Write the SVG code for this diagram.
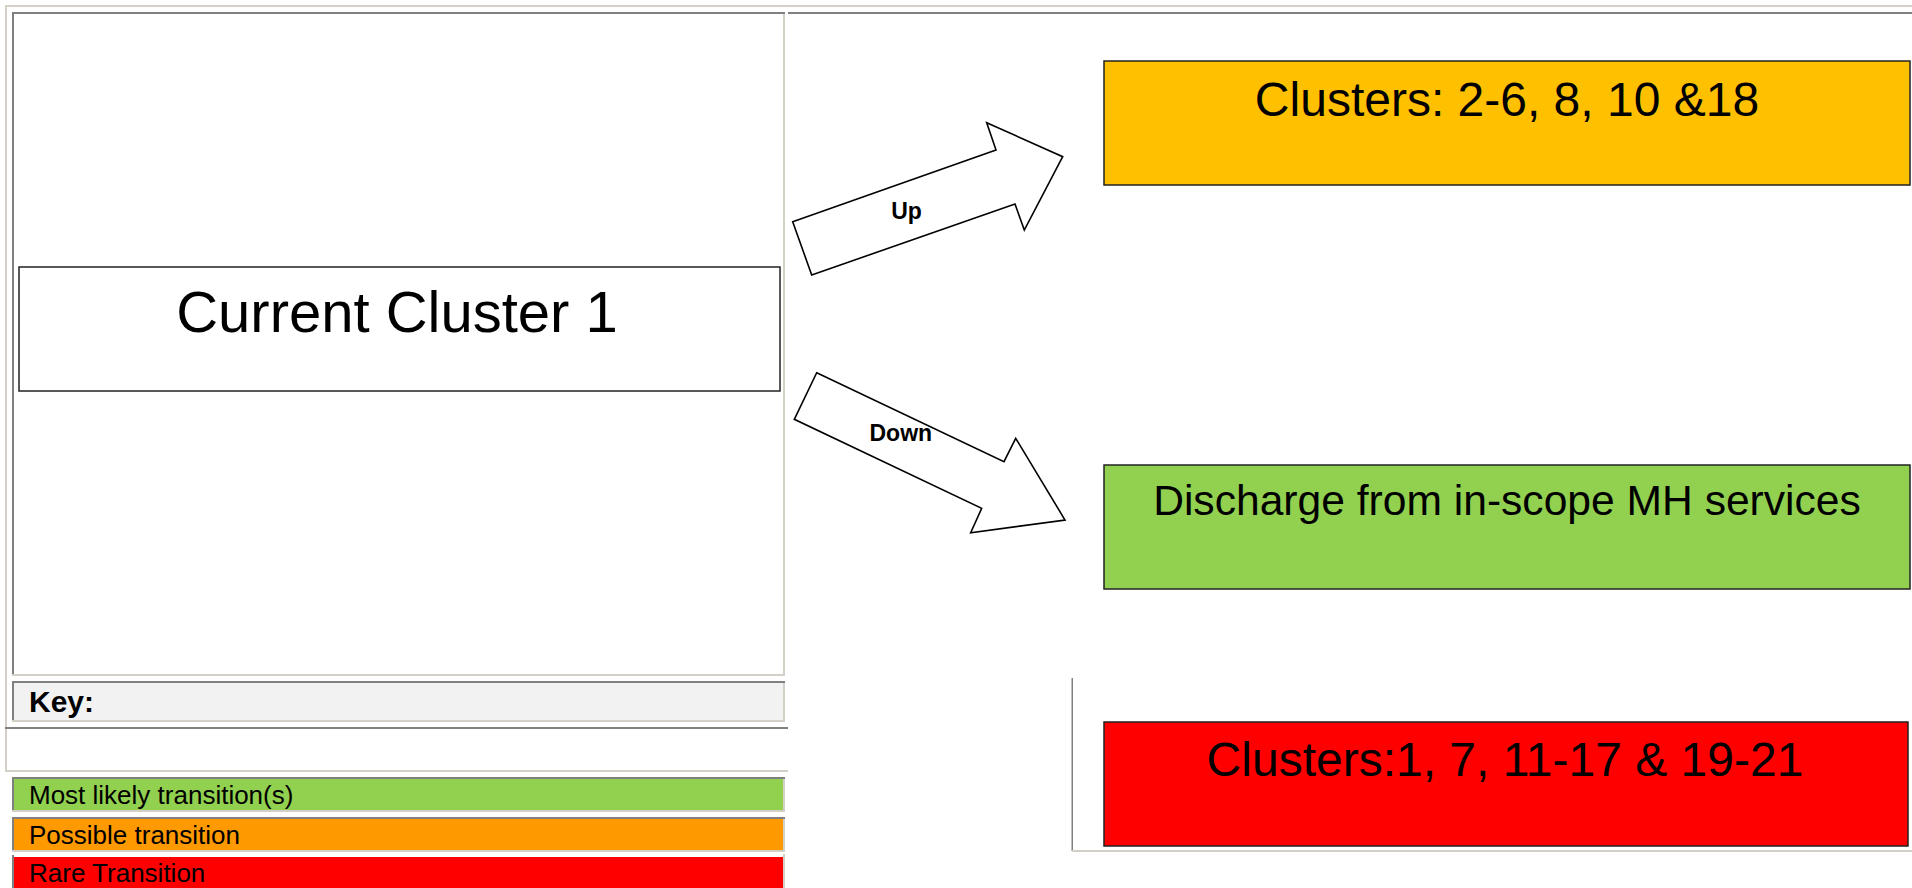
<svg xmlns="http://www.w3.org/2000/svg" width="1912" height="888" viewBox="0 0 1912 888">
<style>
.lt{fill:#d4d0c8}
.dk{fill:#808080}
.box{stroke:#222;stroke-width:1.5}
.t{font-family:"Liberation Sans",Arial,sans-serif;fill:#000}
.arrow{fill:#fff;stroke:#000;stroke-width:1.6;stroke-linejoin:miter}
.lbl{font-family:"Liberation Sans",Arial,sans-serif;font-weight:bold;font-size:23px;fill:#000}
.leg{font-family:"Liberation Sans",Arial,sans-serif;font-size:26px;fill:#000}
</style>
<rect width="1912" height="888" fill="#fff"/>
<g id="frame">
  <rect class="lt" x="5" y="5" width="1907" height="2"/>
  <rect class="lt" x="5" y="5" width="2" height="767"/>
  <rect class="dk" x="12" y="12" width="773" height="2"/>
  <rect class="dk" x="12" y="12" width="2" height="664"/>
  <rect class="lt" x="783" y="14" width="2" height="662"/>
  <rect class="lt" x="12" y="674" width="773" height="2"/>
  <rect class="dk" x="788" y="12" width="1124" height="2"/>
  <rect class="dk" x="5" y="727" width="783" height="2"/>
  <rect class="lt" x="5" y="770" width="783" height="2"/>
  <rect class="dk" x="1071.5" y="678" width="1.5" height="173"/>
  <rect class="lt" x="1072" y="850" width="840" height="2"/>
</g>
<g id="key">
  <rect x="12" y="681" width="773" height="41" fill="#f2f2f2"/>
  <rect class="dk" x="12" y="681" width="773" height="2"/>
  <rect class="dk" x="12" y="681" width="2" height="41"/>
  <rect class="lt" x="783" y="683" width="2" height="39"/>
  <rect class="lt" x="12" y="720" width="773" height="2"/>
  <text class="t" x="29" y="712" font-size="30" font-weight="bold">Key:</text>
</g>
<g id="legend-likely">
  <rect x="12" y="777" width="773" height="35" fill="#92d050"/>
  <rect class="dk" x="12" y="777" width="773" height="2"/>
  <rect class="dk" x="12" y="777" width="2" height="35"/>
  <rect class="lt" x="783" y="779" width="2" height="33"/>
  <rect class="lt" x="12" y="810" width="773" height="2"/>
  <text class="leg" x="29" y="804">Most likely transition(s)</text>
</g>
<g id="legend-possible">
  <rect x="12" y="817" width="773" height="35" fill="#ff9900"/>
  <rect class="dk" x="12" y="817" width="773" height="2"/>
  <rect class="dk" x="12" y="817" width="2" height="35"/>
  <rect class="lt" x="783" y="819" width="2" height="33"/>
  <rect class="lt" x="12" y="850" width="773" height="2"/>
  <text class="leg" x="29" y="844">Possible transition</text>
</g>
<g id="legend-rare">
  <rect x="14" y="857" width="769" height="31" fill="#ff0000"/>
  <rect class="dk" x="12" y="855" width="2" height="33"/>
  <rect class="lt" x="783" y="854" width="2" height="34"/>
  <text class="leg" x="29" y="882">Rare Transition</text>
</g>
<g id="current">
  <rect class="box" x="19" y="267" width="761" height="124" fill="#fff" stroke="#333"/>
  <text class="t" x="397" y="332" font-size="58" text-anchor="middle">Current Cluster 1</text>
</g>
<g id="up-target">
  <rect class="box" x="1104" y="61" width="806" height="124" fill="#ffc000"/>
  <text class="t" x="1507" y="116" font-size="48" text-anchor="middle">Clusters: 2-6, 8, 10 &amp;18</text>
</g>
<g id="down-target">
  <rect class="box" x="1104" y="465" width="806" height="124" fill="#92d050"/>
  <text class="t" x="1507" y="515" font-size="42.6" text-anchor="middle">Discharge from in-scope MH services</text>
</g>
<g id="rare-target">
  <rect class="box" x="1104" y="722" width="804" height="124" fill="#ff0000"/>
  <text class="t" x="1505" y="776" font-size="48" text-anchor="middle">Clusters:1, 7, 11-17 &amp; 19-21</text>
</g>
<g id="connectors">
  <polygon class="arrow" points="792.7,221.7 996,150 986.7,122.7 1062.7,156.7 1024.3,230 1015,204 811.7,275"/>
  <text class="lbl" x="906.5" y="218.5" text-anchor="middle">Up</text>
  <polygon class="arrow" points="816.7,372.7 1004,461.7 1015.7,438.3 1065,520 970.7,532.7 981.7,508.3 794.3,419.3"/>
  <text class="lbl" x="900.8" y="441" text-anchor="middle">Down</text>
</g>
</svg>
